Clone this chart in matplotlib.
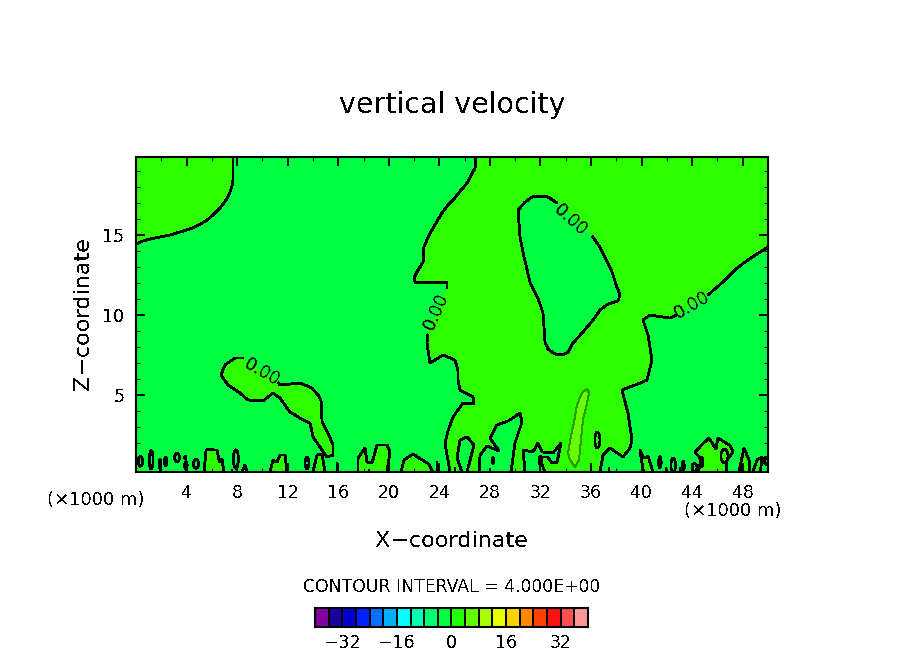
import matplotlib
matplotlib.use("Agg")
import matplotlib.pyplot as plt
from matplotlib.patches import Ellipse, Rectangle
import numpy as np

C0 = "#00FF40"
C1 = "#2BFF00"
C2 = "#66FF00"
XMIN, XMAX, ZMIN, ZMAX = 0.0, 50.0, 0.19, 19.88

top_left = [(0,14.44),(0.55,14.63),(1.11,14.75),(1.9,14.88),(2.69,15.0),(3.48,15.19),(4.27,15.38),(4.98,15.63),(5.62,15.94),(6.17,16.31),(6.65,16.69),(7.12,17.19),(7.44,17.69),(7.59,18.06),(7.67,18.44),(7.67,19.88)]

main_upper = [(26.9,19.88),(26.82,19.19),(26.5,18.7),(26.19,18.25),(25.6,17.7),(25.08,17.19),(24.6,16.8),(24.21,16.38),(23.85,15.9),(23.5,15.44),(23.1,14.85),(22.78,14.25),(22.71,13.31),(22.3,12.8),(21.99,12.31),(22.07,12.06),(24.6,12.06),(24.6,11.69)]
main_lower = [(23.1,8.81),(23.02,8.25),(23.26,7.0),(24.29,7.5),(25.24,7.19),(25.47,6.56),(25.47,5.94),(25.63,5.31),(26.66,4.88),(26.74,4.44),(25.87,4.5),(25.08,3.63),(24.7,2.8),(24.45,2.0),(24.84,0.19)]
right_lower = [(36.71,0.19),(36.95,1.25),(37.5,1.69),(38.53,1.13),(39.08,1.69),(39.24,2.19),(38.92,3.88),(38.45,5.31),(39.87,5.75),(40.43,5.94),(40.82,7.19),(40.51,8.75),(40.11,9.69),(40.66,10.0),(42.25,9.81),(42.72,10.0)]
right_upper = [(45.25,11.25),(46.6,12.19),(47.5,12.9),(48.18,13.31),(49.1,13.8),(50,14.25)]

centre_blob = [(36.08,14.94),(36.71,14.25),(37.1,13.63),(37.66,12.69),(38.05,11.75),(38.29,11.25),(38.13,10.88),(37.34,10.69),(36.71,10.31),(36.16,9.69),(35.36,8.94),(34.57,8.25),(34.18,7.69),(33.78,7.5),(33.15,7.56),(32.59,7.88),(32.36,8.31),(32.2,10.13),(31.8,11.06),(31.17,12.06),(30.7,13.63),(30.38,14.88),(30.22,16.56),(30.78,17.06),(31.33,17.38),(31.8,17.44),(32.59,17.38),(33.31,17.0)]

left_blob = [(8.47,7.31),(7.83,7.31),(7.04,6.88),(6.72,6.25),(7.28,5.63),(8.23,5.13),(8.86,4.69),(10.05,4.63),(10.84,5.13),(11.39,4.81),(12.18,3.94),(13.0,3.55),(13.77,3.25),(14.0,2.38),(14.72,1.56),(15.11,1.13),(15.59,1.25),(15.59,1.88),(15.2,2.6),(14.72,3.31),(14.64,4.69),(14.4,5.0),(13.92,5.44),(12.97,5.75),(11.39,5.63),(11.23,5.81)]

bumps = [
 [(5.38,.19),(5.54,1.56),(5.85,1.63),(6.2,1.56),(6.41,1.56),(6.6,.81),(6.8,1.0),(6.96,.19)],
 [(8.39,.19),(8.62,.63),(8.78,.19)],
 [(10.6,.19),(10.84,.94),(11.16,.81),(11.39,1.25),(11.79,1.25),(11.95,.19)],
 [(14.0,.19),(14.32,1.25),(14.72,1.31),(14.95,.19)],
 [(17.56,.19),(17.56,1.06),(18.12,1.69),(18.28,.81),(18.67,.75),(19.07,1.88),(19.86,1.88),(20.09,1.44),(19.86,.19)],
 [(20.97,.19),(21.2,.94),(21.91,1.31),(22.63,.94),(23.1,.75),(23.5,.19)],
 [(40.15,.19),(39.87,1.56),(40.19,1.06),(40.51,1.19),(40.9,.19)],
 [(44.5,.19),(44.7,1.0),(44.22,1.44),(44.9,2.0),(45.33,2.31),(45.88,1.63),(46.04,2.31),(47.0,1.85),(47.23,1.44),(46.76,.94),(46.7,.19)],
 [(47.7,.19),(48.1,1.69),(48.5,.94),(48.58,.19)],
 [(48.8,.19),(49.13,.94),(49.53,1.13),(49.4,.19)],
]
tongues = [
 [(25.79,.19),(25.4,1.06),(25.63,2.19),(26.19,2.38),(26.74,1.88),(26.19,.19)],
 [(27.14,.19),(27.22,1.25),(27.77,1.81),(28.72,1.5),(28.01,2.31),(28.56,3.13),(29.5,3.4),(30.38,3.88),(30.54,3.31),(29.98,2.0),(29.67,.19)],
 [(30.78,.19),(30.62,1.56),(31.4,1.44),(31.8,2.0),(32.12,1.44),(32.99,1.38),(33.62,2.0),(33.31,.81),(32.91,.75),(32.55,1.13),(32.12,1.13),(32.04,.81),(32.36,.19)],
]
inner_line = [(31.96,.19),(31.96,.6),(32.12,.81)]
light_region = [(35.68,5.38),(35.84,5.13),(35.6,4.19),(35.36,3.44),(35.2,2.19),(35.05,.94),(34.73,.5),(34.34,.94),(34.18,1.38),(34.42,2.5),(34.65,3.31),(34.89,4.38),(35.28,5.13)]

# small closed contours: centre x, centre z, width, height
small_x = [0.35,1.2,1.9,2.35,3.25,3.9,3.95,4.75,7.9,13.53,36.5,41.45,42.5,43.3,44.2,44.75,46.55,49.85,28.25,32.0]
small_z = [0.85,0.95,0.7,0.85,1.1,1.1,0.6,0.7,1.0,0.75,2.19,0.8,0.6,0.55,0.45,0.8,1.19,0.9,0.9,0.9]
small_w = [0.35,0.3,0.18,0.18,0.4,0.1,0.2,0.4,0.4,0.3,0.4,0.2,0.35,0.15,0.35,0.2,0.55,0.3,0.1,0.2]
small_h = [0.6,1.15,0.55,0.55,0.5,0.15,0.5,0.55,1.15,0.75,1.0,0.7,0.9,0.6,0.55,0.6,0.85,0.45,0.35,0.5]

# short open contour pieces rising from the ground
stubs_x = [1.9,7.6,15.9,18.4,23.8,25.2,28.0,36.0,41.9,43.0,47.9,37.4]
stubs_h = [0.3,0.2,0.6,0.2,0.7,0.3,0.25,0.2,0.3,0.3,0.5,0.3]

bar_levels = list(range(-40, 40, 4))
bar_colors = ["#8000A0","#1C00A0","#0000D0","#0020FF","#0070FF","#00B0FF","#00FFFF","#00FFB0","#00FF70","#00FF40",
              "#20FF00","#60FF00","#A8FF00","#E8FF00","#FFD000","#FF8800","#FF4000","#FF1010","#FF5050","#FF9898"]
bar_ticks = [-32, -16, 0, 16, 32]
x_ticks = list(range(4, 50, 4))
z_ticks = [5, 10, 15]
contour_labels = [(23.75,10.2,66),(10.0,6.4,-30),(34.4,15.95,-42),(44.0,10.6,30)]

plt.rcParams["font.family"] = "DejaVu Sans"
plt.rcParams["text.antialiased"] = False
W, H = 904, 654
fig = plt.figure(figsize=(W/100, H/100), dpi=100, facecolor="white")
ax = fig.add_axes([136/W, 1-472/H, 632/W, 315/H])
ax.set_xlim(XMIN, XMAX); ax.set_ylim(ZMIN, ZMAX)
ax.set_facecolor(C0)

def fill(pts, color, z=1):
    p = np.array(pts)
    ax.fill(p[:,0], p[:,1], color=color, lw=0, zorder=z, antialiased=False)

def line(pts, lw=1.3, color="black", z=3):
    p = np.array(pts)
    ax.plot(p[:,0], p[:,1], color=color, lw=lw, zorder=z, solid_capstyle="butt",
            solid_joinstyle="round", antialiased=False)

fill(top_left + [(0,19.88)], C1)
fill(main_upper + main_lower + right_lower + right_upper + [(50,19.88)], C1)
fill(centre_blob, C0, 2)
fill(left_blob, C1)
for b in bumps:
    fill(b, C1, 1); line(b)
for t in tongues:
    fill(t, C0, 2); line(t)
line(inner_line)
fill(light_region, C2, 2)
line(light_region + light_region[:1], lw=0.7, color="#2E9A00")
for seg in (top_left, main_upper, main_lower, right_lower, right_upper, centre_blob, left_blob):
    line(seg)
for x, z, w, h in zip(small_x, small_z, small_w, small_h):
    ax.add_patch(Ellipse((x, z), w, h, fc="none", ec="black", lw=1.2, zorder=3, antialiased=False))
for x, h in zip(stubs_x, stubs_h):
    line([(x, ZMIN), (x, ZMIN + h)])
for x, z, rot in contour_labels:
    ax.text(x, z, "0.00", rotation=rot, rotation_mode="anchor", ha="center", va="center", fontsize=12.5, zorder=4)

ax.set_xticks(x_ticks); ax.set_yticks(z_ticks)
ax.set_xticks(np.arange(2, 50, 2), minor=True)
ax.set_yticks(np.arange(1, 20, 1), minor=True)
ax.tick_params(which="major", direction="in", length=6.5, width=1.4, top=True, right=True, labelsize=12.5, pad=8.5)
ax.tick_params(which="minor", direction="in", length=3, width=0.8, top=True, right=True)
for s in ax.spines.values():
    s.set_linewidth(1.5)

def ftext(px, py, s, **kw):
    fig.text(px/W, 1-py/H, s, ha="center", va="center", **kw)

ftext(452, 105, "vertical velocity", fontsize=20.5)
ftext(452, 541, "X\u2212coordinate", fontsize=16)
ftext(83, 314, "Z\u2212coordinate", fontsize=16, rotation=90)
ftext(96, 500, "(\u00d71000 m)", fontsize=13)
ftext(733, 511, "(\u00d71000 m)", fontsize=13)
ftext(452, 587, "CONTOUR INTERVAL = 4.000E+00", fontsize=12.4)

cax = fig.add_axes([315/W, 1-627/H, 273/W, 19/H])
cax.set_xlim(-40, 40); cax.set_ylim(0, 1)
for lev, col in zip(bar_levels, bar_colors):
    cax.add_patch(Rectangle((lev, 0), 4, 1, fc=col, ec="black", lw=1.2, antialiased=False))
cax.set_yticks([])
cax.set_xticks(bar_ticks, [str(t).replace("-", "\u2212") for t in bar_ticks])
cax.tick_params(length=0, labelsize=12.5, pad=5)
for s in cax.spines.values():
    s.set_linewidth(1.5)

fig.savefig("out.png", dpi=100)
